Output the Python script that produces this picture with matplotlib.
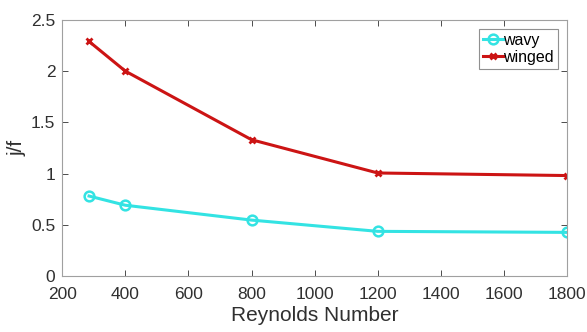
import numpy as np
import matplotlib
matplotlib.use("Agg")
import matplotlib.pyplot as plt

plt.rcParams['font.family'] = ['Liberation Sans', 'DejaVu Sans']

# data
re = [285, 400, 800, 1200, 1800]
wavy = [0.78, 0.69, 0.545, 0.435, 0.425]
winged = [2.29, 2.0, 1.33, 1.005, 0.98]

fig = plt.figure(figsize=(5.87, 3.32), dpi=100)
ax = fig.add_axes([0.106, 0.169, 0.860, 0.771])

ax.plot(re, wavy, '-o', color='#33e3e3', lw=2.2, ms=7, mfc='none', mew=1.8, label='wavy')
ax.plot(re, winged, '-x', color='#cc1414', lw=2.2, ms=5, mew=2, label='winged')

ax.set_xlim(200, 1800)
ax.set_ylim(0, 2.5)
ax.set_xticks(np.arange(200, 1801, 200))
ax.set_yticks([0, 0.5, 1, 1.5, 2, 2.5])
ax.set_yticklabels(['0', '0.5', '1', '1.5', '2', '2.5'])
ax.tick_params(direction='in', top=True, right=True, labelsize=12.5, colors='#303030', length=4, width=0.6)
ax.tick_params(axis='x', pad=8)
ax.tick_params(axis='y', pad=5)
for s in ax.spines.values():
    s.set_color('#a0a0a0')
    s.set_linewidth(0.8)

ax.set_xlabel('Reynolds Number', fontsize=15, color='#303030', labelpad=3)
ax.set_ylabel('j/f', fontsize=15, color='#303030', labelpad=3)

leg = ax.legend(loc='upper right', fontsize=11.5, handlelength=1.2, handletextpad=0.05,
                borderpad=0.25, labelspacing=0.15, fancybox=False, framealpha=1,
                borderaxespad=0, bbox_to_anchor=(0.982, 0.966))
leg.get_frame().set_edgecolor('#909090')
leg.get_frame().set_linewidth(0.8)

plt.savefig('out.png', dpi=100)
